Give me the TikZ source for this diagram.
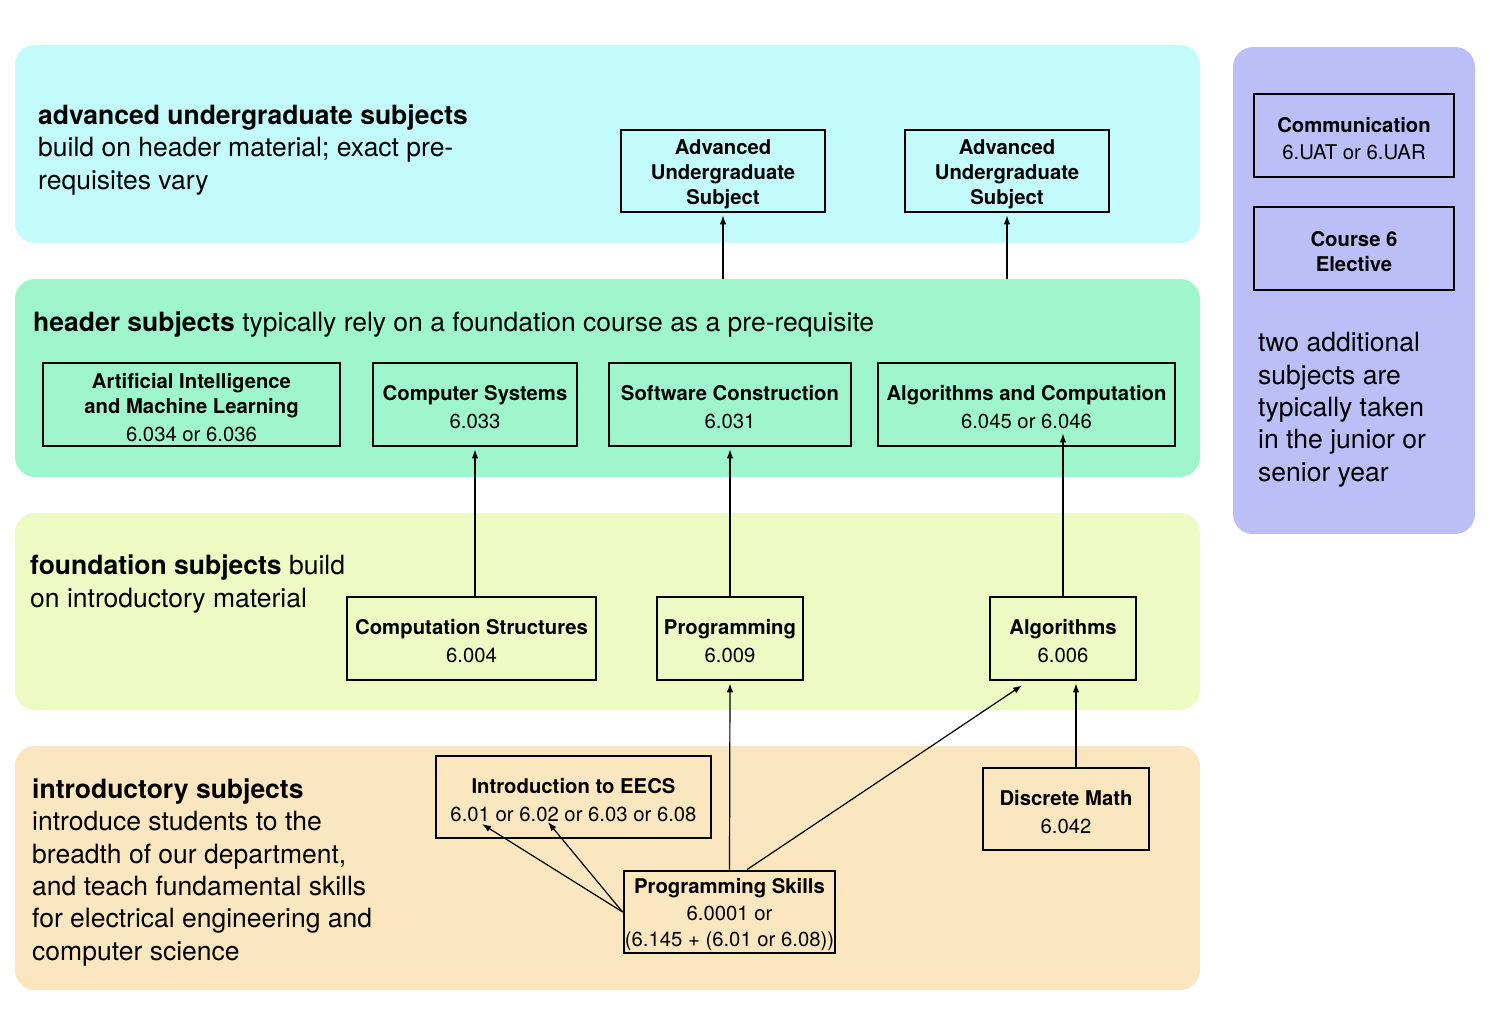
\documentclass[tikz,border=0pt]{standalone}
\usepackage{fontspec}
\setmainfont{TeX Gyre Heros}
\usetikzlibrary{arrows.meta}
\usetikzlibrary{positioning}
\usetikzlibrary{calc}
\definecolor{advcol}{RGB}{195,251,253}
\definecolor{hdrcol}{RGB}{160,246,204}
\definecolor{fndcol}{RGB}{237,250,196}
\definecolor{intcol}{RGB}{250,231,192}
\definecolor{extcol}{RGB}{188,190,247}
\newcommand{\boxfont}{\fontsize{20.3}{25}\selectfont}
\newcommand{\blurbfont}{\fontsize{26.5}{32.3}\selectfont}
\newcommand{\topline}{\rule{0pt}{21pt}}
\tikzset{band/.style = {rounded corners=20pt, inner sep=0pt},
         course/.style = {draw, line width=2.8pt, align=center, inner sep=0pt, font=\boxfont},
         blurb/.style = {anchor=base west, align=left, inner sep=0pt, font=\blurbfont},
         prereq/.style = {-{Latex[length=9pt,width=6.5pt]}, line width=1.2pt, shorten >=2pt}}

\begin{document}
\begin{tikzpicture}[x=1pt, y=-1pt]
      \useasboundingbox (0, 0) rectangle (1490, 1010);
      \node [band, fill=advcol, minimum width=1185pt, minimum height=198pt] (advband) at (607.5, 144) {};
      \node [band, fill=hdrcol, minimum width=1185pt, minimum height=198pt] (hdrband) at (607.5, 378) {};
      \node [band, fill=fndcol, minimum width=1185pt, minimum height=197pt] (fndband) at (607.5, 611.5) {};
      \node [band, fill=intcol, minimum width=1185pt, minimum height=244pt] (intband) at (607.5, 868) {};
      \node [band, fill=extcol, minimum width=242pt, minimum height=487pt] (extband) at (1354, 290.5) {};

      % blurbs sit on the baseline of their last line
      \node [blurb] (advtext) at (38, 189) {\textbf{advanced undergraduate subjects}\\build on header material; exact pre-\\requisites vary};
      \node [blurb] (hdrtext) at (33, 331) {\textbf{header subjects} typically rely on a foundation course as a pre-requisite};
      \node [blurb] (fndtext) at (30, 607) {\textbf{foundation subjects} build\\on introductory material};
      \node [blurb] (inttext) at (32, 960) {\textbf{introductory subjects}\\introduce students to the\\breadth of our department,\\and teach fundamental skills\\for electrical engineering and\\computer science};
      \node [blurb] (exttext) at (1258, 481) {two additional\\subjects are\\typically taken\\in the junior or\\senior year};

      \node [course, minimum width=204pt, minimum height=82pt] (adva) at (723, 171) {\topline\textbf{Advanced}\\\textbf{Undergraduate}\\\textbf{Subject}};
      \node [course, minimum width=204pt, minimum height=82pt] (advb) at (1007, 171) {\topline\textbf{Advanced}\\\textbf{Undergraduate}\\\textbf{Subject}};
      \node [course, minimum width=200pt, minimum height=83pt] (comm) at (1354, 135.5) {\topline\textbf{Communication}\\[2pt]6.UAT or 6.UAR};
      \node [course, minimum width=200pt, minimum height=83pt] (elective) at (1354, 248.5) {\topline\textbf{Course 6}\\\textbf{Elective}};

      \node [course, minimum width=297pt, minimum height=83pt] (aiml) at (191.5, 404.5) {\topline\textbf{Artificial Intelligence}\\\textbf{and Machine Learning}\\[3pt]6.034 or 6.036};
      \node [course, minimum width=204pt, minimum height=83pt] (compsys) at (475, 404.5) {\topline\textbf{Computer Systems}\\[3pt]6.033};
      \node [course, minimum width=242pt, minimum height=83pt] (softcon) at (730, 404.5) {\topline\textbf{Software Construction}\\[3pt]6.031};
      \node [course, minimum width=297pt, minimum height=83pt] (algcomp) at (1026.5, 404.5) {\topline\textbf{Algorithms and Computation}\\[3pt]6.045 or 6.046};

      \node [course, minimum width=249pt, minimum height=83pt] (compstruct) at (471.5, 638.5) {\topline\textbf{Computation Structures}\\[3pt]6.004};
      \node [course, minimum width=146pt, minimum height=83pt] (programming) at (730, 638.5) {\topline\textbf{Programming}\\[3pt]6.009};
      \node [course, minimum width=146pt, minimum height=83pt] (algo) at (1063, 638.5) {\topline\textbf{Algorithms}\\[3pt]6.006};

      \node [course, minimum width=275pt, minimum height=82pt] (introeecs) at (573.5, 797) {\topline\textbf{Introduction to EECS}\\[3pt]6.01 or 6.02 or 6.03 or 6.08};
      \node [course, minimum width=166pt, minimum height=82pt] (discrete) at (1066, 809) {\topline\textbf{Discrete Math}\\[3pt]6.042};
      \node [course, minimum width=211pt, minimum height=82pt] (progskills) at (729.5, 912) {\topline\textbf{Programming Skills}\\[2pt]6.0001 or\\[1pt](6.145 + (6.01 or 6.08))};

      \draw [prereq] (hdrband.north -| adva.south) -- (adva.south);
      \draw [prereq] (hdrband.north -| advb.south) -- (advb.south);
      \draw [prereq] (compsys.south |- compstruct.north) -- (compsys.south);
      \draw [prereq] (programming.north) -- (softcon.south);
      \draw [prereq, shorten >=0pt] (algo.north) -- ($(algo.north |- algcomp.south) + (0, -14)$);
      \draw [prereq] (progskills.north) -- (programming.south);
      \draw [prereq, shorten >=0pt] ($(progskills.north) + (17.5, 0)$) -- ($(algo.south) + (-41, 4)$);
      \draw [prereq] ($(discrete.north) + (10, 0)$) -- ($(algo.south) + (13, 0)$);
      \draw [prereq, shorten >=0pt] (progskills.west) -- ($(introeecs.center) + (-91.5, 27)$);
      \draw [prereq, shorten >=0pt] (progskills.west) -- ($(introeecs.center) + (-25.5, 25)$);
    \end{tikzpicture}
\end{document}
